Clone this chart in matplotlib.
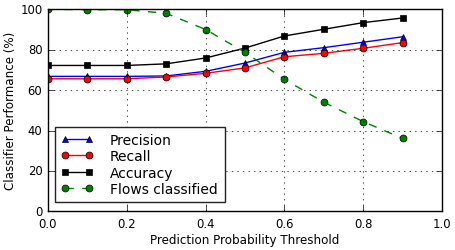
import matplotlib
matplotlib.use("Agg")
import matplotlib.pyplot as plt

thresholds = [0.0, 0.1, 0.2, 0.3, 0.4, 0.5, 0.6, 0.7, 0.8, 0.9]
precision = [66.8, 66.8, 66.8, 67.0, 69.3, 73.4, 78.7, 81.0, 83.7, 86.4]
recall = [65.6, 65.6, 65.6, 66.5, 68.3, 71.0, 76.5, 78.2, 80.7, 83.5]
accuracy = [72.2, 72.2, 72.2, 73.0, 75.9, 80.8, 86.8, 90.1, 93.4, 95.7]
flows = [100.0, 99.8, 99.8, 98.0, 90.0, 78.7, 65.3, 54.0, 44.4, 36.1]

plt.style.use("classic")
plt.rcParams["font.family"] = "DejaVu Sans"
fig = plt.figure(figsize=(4.56, 2.51), dpi=100)
fig.patch.set_facecolor("white")
ax = fig.add_axes([48 / 456, (251 - 212.3) / 251, 394 / 456, 202 / 251])

ms = 5
ax.plot(thresholds, precision, "b-^", label="Precision", markersize=ms)
ax.plot(thresholds, recall, "r-o", label="Recall", markersize=ms)
ax.plot(thresholds, accuracy, "k-s", label="Accuracy", markersize=ms)
ax.plot(thresholds, flows, "g--o", label="Flows classified", markersize=ms)

ax.set_xlim(0, 1.0)
ax.set_ylim(0, 100)
ax.set_xticks([0.0, 0.2, 0.4, 0.6, 0.8, 1.0])
ax.set_yticks([0, 20, 40, 60, 80, 100])
ax.grid(True, linestyle=":", color="black")
ax.tick_params(labelsize=8.4)
ax.set_xlabel("Prediction Probability Threshold", fontsize=8.6, labelpad=2)
ax.set_ylabel("Classifier Performance (%)", fontsize=8.6, labelpad=2)
leg = ax.legend(loc="lower left", numpoints=2, fontsize=10, fancybox=False,
                bbox_to_anchor=(7 / 394, 9 / 202, 170 / 394, 0.4), mode="expand",
                borderaxespad=0.0, labelspacing=0.17, borderpad=0.45,
                handlelength=2.3, handletextpad=1.2)
leg.get_frame().set_edgecolor("#222222")
fig.savefig("out.png", dpi=100, facecolor="white")
